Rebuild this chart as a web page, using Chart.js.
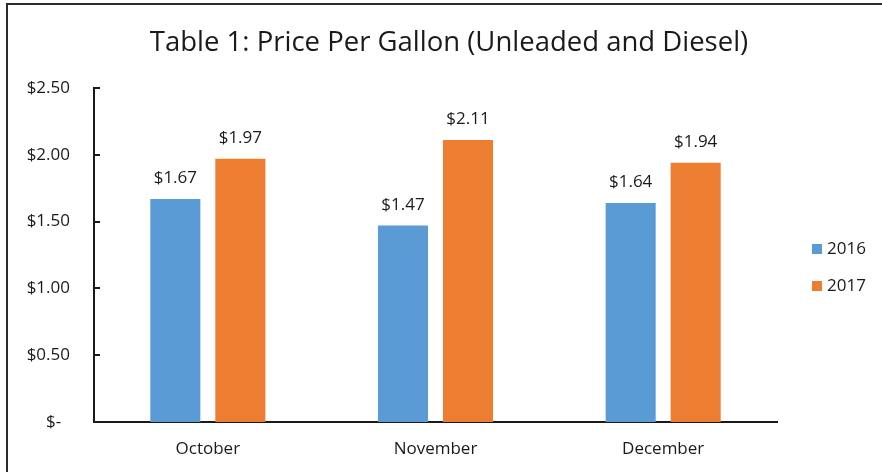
<!DOCTYPE html>
<html>
<head>
<meta charset="utf-8">
<script src="https://cdn.jsdelivr.net/npm/chart.js@4"></script>
<style>
  html, body { margin: 0; padding: 0; background: #fff; }
  #wrap { position: relative; width: 882px; height: 472px; }
</style>
</head>
<body>
<div id="wrap"><canvas id="chart"></canvas></div>
<script>
const MONTHS = ["October", "November", "December"];
const PRICE_2016 = [1.67, 1.47, 1.64];
const PRICE_2017 = [1.97, 2.11, 1.94];
const SERIES = ["2016", "2017"];

const BLUE = "#5b9bd5";
const ORANGE = "#ed7d31";
const INK = "#1a1a1a";
const FONT = "'Open Sans', 'Noto Sans', sans-serif";

const money = (v) => (v === 0 ? "$-  " : "$" + v.toFixed(2));

// white page with the cropped frame (top and left edges only)
const frame = {
  id: "frame",
  beforeDraw(chart) {
    const { ctx, width, height } = chart;
    ctx.save();
    ctx.fillStyle = "#fff";
    ctx.fillRect(0, 0, width, height);
    ctx.strokeStyle = "#2b2b2b";
    ctx.lineWidth = 2;
    ctx.beginPath();
    ctx.moveTo(7, height);
    ctx.lineTo(7, 4);
    ctx.lineTo(width, 4);
    ctx.stroke();
    ctx.restore();
  },
};

// excel style tick marks pointing into the plot
const insideTicks = {
  id: "insideTicks",
  afterDraw(chart) {
    const y = chart.scales.y;
    const left = chart.chartArea.left;
    const ctx = chart.ctx;
    ctx.save();
    ctx.strokeStyle = INK;
    ctx.lineWidth = 2;
    y.ticks.forEach((t) => {
      const py = Math.round(y.getPixelForValue(t.value));
      ctx.beginPath();
      ctx.moveTo(left - 1, py);
      ctx.lineTo(left + 6, py);
      ctx.stroke();
    });
    ctx.restore();
  },
};

const valueLabels = {
  id: "valueLabels",
  afterDatasetsDraw(chart) {
    const ctx = chart.ctx;
    ctx.save();
    ctx.font = "17px " + FONT;
    ctx.fillStyle = INK;
    ctx.textAlign = "center";
    ctx.textBaseline = "alphabetic";
    chart.data.datasets.forEach((ds, i) => {
      chart.getDatasetMeta(i).data.forEach((bar, j) => {
        ctx.fillText(money(ds.data[j]), bar.x, bar.y - 16);
      });
    });
    ctx.restore();
  },
};

const sideLegend = {
  id: "sideLegend",
  afterDraw(chart) {
    const { ctx, chartArea } = chart;
    const x = chartArea.right + 35;
    const mid = (chartArea.top + chartArea.bottom) / 2 + 12;
    ctx.save();
    ctx.font = "17px " + FONT;
    ctx.textBaseline = "middle";
    chart.data.datasets.forEach((ds, i) => {
      const cy = mid + (i - 0.5) * 37;
      ctx.fillStyle = ds.backgroundColor;
      ctx.fillRect(x, Math.round(cy - 5), 10, 10);
      ctx.fillStyle = INK;
      ctx.fillText(ds.label, x + 15, cy + 1);
    });
    ctx.restore();
  },
};

new Chart(document.getElementById("chart"), {
  type: "bar",
  data: {
    labels: MONTHS,
    datasets: [
      { label: SERIES[0], data: PRICE_2016, backgroundColor: BLUE },
      { label: SERIES[1], data: PRICE_2017, backgroundColor: ORANGE },
    ],
  },
  options: {
    responsive: true,
    maintainAspectRatio: false,
    animation: false,
    events: [],
    categoryPercentage: 0.571,
    barPercentage: 0.77,
    layout: { padding: { left: 16, right: 0, top: 0, bottom: 0 } },
    plugins: {
      legend: { display: false },
      tooltip: { enabled: false },
      title: {
        display: true,
        text: "Table 1: Price Per Gallon (Unleaded and Diesel)",
        color: INK,
        font: { family: FONT, size: 27.5, weight: "normal" },
        padding: { top: 27, bottom: 28 },
      },
    },
    scales: {
      x: {
        afterFit: (s) => { s.height = 50; },
        grid: { display: false, drawTicks: false },
        border: { display: true, color: INK, width: 2 },
        ticks: { color: INK, padding: 17, font: { family: FONT, size: 17 } },
      },
      y: {
        min: 0,
        max: 2.5,
        afterFit: (s) => { s.width = 78; },
        grid: { display: false, drawTicks: false },
        border: { display: true, color: INK, width: 2 },
        ticks: {
          stepSize: 0.5,
          color: INK,
          padding: 24,
          font: { family: FONT, size: 17 },
          callback: (v) => money(v),
        },
      },
      // empty right axis that only reserves room for the legend
      yRight: {
        axis: "y",
        type: "linear",
        position: "right",
        afterFit: (s) => { s.width = 105; },
        grid: { display: false, drawTicks: false },
        border: { display: false },
        ticks: { display: false },
      },
    },
  },
  plugins: [frame, insideTicks, valueLabels, sideLegend],
});
</script>
</body>
</html>
